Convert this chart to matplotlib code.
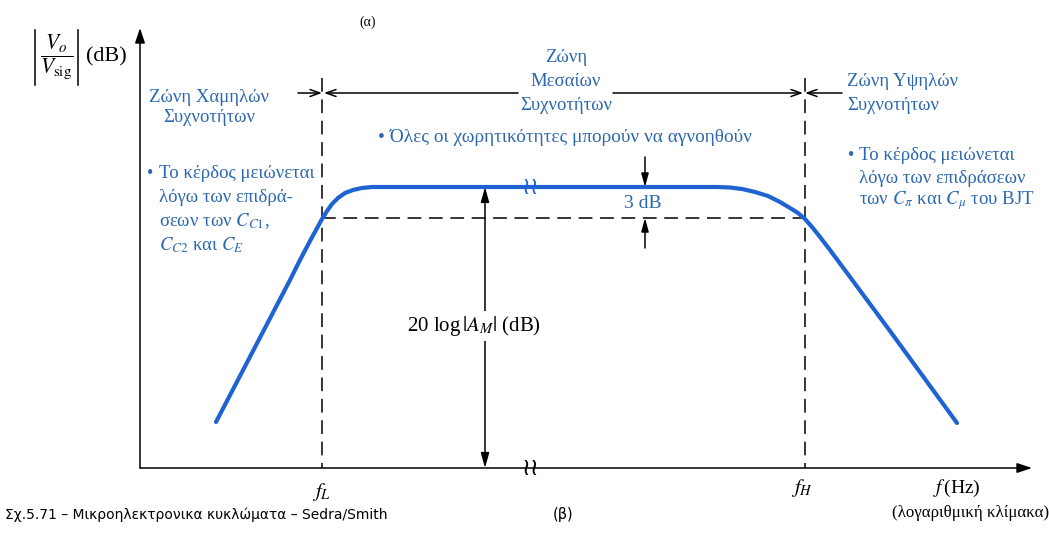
"""Frequency response sketch of a CE amplifier (Sedra/Smith fig. 5.71b)."""
import matplotlib
matplotlib.use("Agg")
import matplotlib.pyplot as plt

plt.rcParams["mathtext.fontset"] = "stix"
SERIF = ["Liberation Serif", "DejaVu Serif"]

# ---------- data (schematic units; y grows downward) ----------
AXIS_X0, AXIS_Y0 = 140, 468          # origin of the axes
AXIS_TOP, AXIS_RIGHT = 28, 1032      # arrow tips
F_L, F_H = 322, 805                  # corner frequencies
MID_Y, DB3_Y = 187, 218              # midband gain and -3 dB level
BREAK_X = 530                        # broken-axis marks
ARROW_20LOG_X = 485
ARROW_3DB_X = 645
ZONE_ARROW_Y = 93

curve_x = [216, 253, 290, 300, 310, 316, 322, 327, 332, 338, 345, 353, 362, 372,
           717, 730, 742, 755, 768, 780, 790, 798, 805, 812, 820, 830, 890, 957]
curve_y = [422, 351, 280, 260, 241, 230, 219, 211, 204, 198, 193, 190, 188, 187,
           187, 187.5, 189, 192, 196, 202, 208, 213, 219, 227, 237, 250, 331, 423]

low_zone = ["Ζώνη Χαμηλών", "Συχνοτήτων"]
mid_zone = ["Ζώνη", "Μεσαίων", "Συχνοτήτων"]
high_zone = ["Ζώνη Υψηλών", "Συχνοτήτων"]
low_note = ["Το κέρδος μειώνεται", "λόγω των επιδρά-",
            r"σεων των $C_{C1}$,", r"$C_{C2}$ και $C_E$"]
mid_note = "• Όλες οι χωρητικότητες μπορούν να αγνοηθούν"
high_note = ["Το κέρδος μειώνεται", "λόγω των επιδράσεων",
             r"των $C_\pi$ και $C_\mu$ του BJT"]
caption = "Σχ.5.71 – Μικροηλεκτρονικα κυκλώματα – Sedra/Smith"

BLUE_LINE = "#1f63d2"
BLUE_TEXT = "#2b67b0"

fig = plt.figure(figsize=(10.49, 5.41), dpi=100)
ax = fig.add_axes([0, 0, 1, 1])
ax.set_xlim(0, 1049)
ax.set_ylim(541, 0)
ax.axis("off")

# ---------- axes with arrow heads ----------
arrow_full = dict(arrowstyle="-|>,head_length=0.9,head_width=0.3", color="black",
                  lw=1.1, shrinkA=0, shrinkB=0)
ax.annotate("", xy=(AXIS_X0, AXIS_TOP), xytext=(AXIS_X0, AXIS_Y0), arrowprops=arrow_full)
ax.annotate("", xy=(AXIS_RIGHT, AXIS_Y0), xytext=(AXIS_X0, AXIS_Y0), arrowprops=arrow_full)

# ---------- dashed guides ----------
dash = dict(color="black", lw=1.1, linestyle=(0, (9, 5)))
ax.plot([F_L, F_L], [78, AXIS_Y0], **dash)
ax.plot([F_H, F_H], [78, AXIS_Y0], **dash)
ax.plot([F_L, F_H], [DB3_Y, DB3_Y], **dash)

# ---------- response curve ----------
ax.plot(curve_x, curve_y, color=BLUE_LINE, lw=3.0, solid_capstyle="round",
        solid_joinstyle="round", zorder=3)

# broken-scale marks
ax.text(BREAK_X, MID_Y, "≀≀", color=BLUE_LINE, fontsize=17, family="DejaVu Sans",
        ha="center", va="center", zorder=4)
ax.text(BREAK_X, AXIS_Y0, "≀≀", color="black", fontsize=17, family="DejaVu Sans",
        ha="center", va="center", zorder=4)

# ---------- zone arrows ----------
thin = dict(arrowstyle="->,head_length=0.7,head_width=0.25", color="black",
            lw=1.1, shrinkA=0, shrinkB=0)
ax.annotate("", xy=(F_L, ZONE_ARROW_Y), xytext=(298, ZONE_ARROW_Y), arrowprops=thin)
ax.annotate("", xy=(F_L + 2, ZONE_ARROW_Y), xytext=(518, ZONE_ARROW_Y), arrowprops=thin)
ax.annotate("", xy=(F_H - 2, ZONE_ARROW_Y), xytext=(613, ZONE_ARROW_Y), arrowprops=thin)
ax.annotate("", xy=(F_H, ZONE_ARROW_Y), xytext=(842, ZONE_ARROW_Y), arrowprops=thin)

# ---------- 3 dB and 20 log arrows ----------
small = dict(arrowstyle="-|>,head_length=0.8,head_width=0.22", color="black",
             lw=1.1, shrinkA=0, shrinkB=0)
ax.annotate("", xy=(ARROW_3DB_X, MID_Y), xytext=(ARROW_3DB_X, 157), arrowprops=small)
ax.annotate("", xy=(ARROW_3DB_X, DB3_Y), xytext=(ARROW_3DB_X, 248), arrowprops=small)
ax.text(ARROW_3DB_X - 2, 204, "3 dB", color=BLUE_TEXT, fontsize=14, family=SERIF,
        ha="center", va="center")

both = dict(arrowstyle="<|-|>,head_length=0.9,head_width=0.25", color="black",
            lw=1.1, shrinkA=0, shrinkB=0)
ax.annotate("", xy=(ARROW_20LOG_X, MID_Y), xytext=(ARROW_20LOG_X, AXIS_Y0), arrowprops=both)
ax.text(474, 326, r"20 log$\,|A_M|$ (dB)", fontsize=15, family=SERIF, ha="center",
        va="center", bbox=dict(facecolor="white", edgecolor="none", pad=2), zorder=5)

# ---------- axis labels ----------
ax.plot([35, 35], [30, 85], color="black", lw=1.1)
ax.plot([78, 78], [30, 85], color="black", lw=1.1)
ax.text(56.5, 57, r"$\dfrac{V_o}{V_{\rm sig}}$", fontsize=15.5, ha="center", va="center")
ax.text(86, 57, "(dB)", fontsize=16, family=SERIF, ha="left", va="center")
ax.text(368, 22, "(α)", fontsize=10, family=SERIF, ha="center", va="center")
ax.text(F_L, 492, r"$f_L$", fontsize=15, ha="center", va="center")
ax.text(F_H - 3, 488, r"$f_H$", fontsize=15, ha="center", va="center")
ax.text(957, 488, r"$f\,$(Hz)", fontsize=14, family=SERIF, ha="center", va="center")
ax.text(971, 513, "(λογαριθμική κλίμακα)", fontsize=12.2, family=SERIF,
        ha="center", va="center")

# ---------- zone annotations ----------
for i, line in enumerate(low_zone):
    ax.text(209, 97 + 21 * i, line, color=BLUE_TEXT, fontsize=13.5, family=SERIF,
            ha="center", va="center")
for i, line in enumerate(mid_zone):
    ax.text(566, 57 + 24.5 * i, line, color=BLUE_TEXT, fontsize=13.5, family=SERIF,
            ha="center", va="center")
for i, line in enumerate(high_zone):
    ax.text(847, 82 + 24 * i, line, color=BLUE_TEXT, fontsize=13.5, family=SERIF,
            ha="left", va="center")

ax.text(150, 173, "•", color=BLUE_TEXT, fontsize=13, family=SERIF, ha="center", va="center")
for i, line in enumerate(low_note):
    ax.text(159, 173 + 24 * i, line, color=BLUE_TEXT, fontsize=13.5, family=SERIF,
            ha="left", va="center")

ax.text(378, 137, mid_note, color=BLUE_TEXT, fontsize=13.9, family=SERIF,
        ha="left", va="center")

ax.text(851, 156, "•", color=BLUE_TEXT, fontsize=13, family=SERIF, ha="center", va="center")
for i, line in enumerate(high_note):
    ax.text(859, 156 + 22.5 * i, line, color=BLUE_TEXT, fontsize=13.5, family=SERIF,
            ha="left", va="center")

# ---------- caption ----------
ax.text(5, 515, caption, fontsize=10, family="DejaVu Sans", ha="left", va="center")
ax.text(563, 515, "(β)", fontsize=10.5, family="DejaVu Sans", ha="center", va="center")

fig.savefig("out.png", dpi=100)
